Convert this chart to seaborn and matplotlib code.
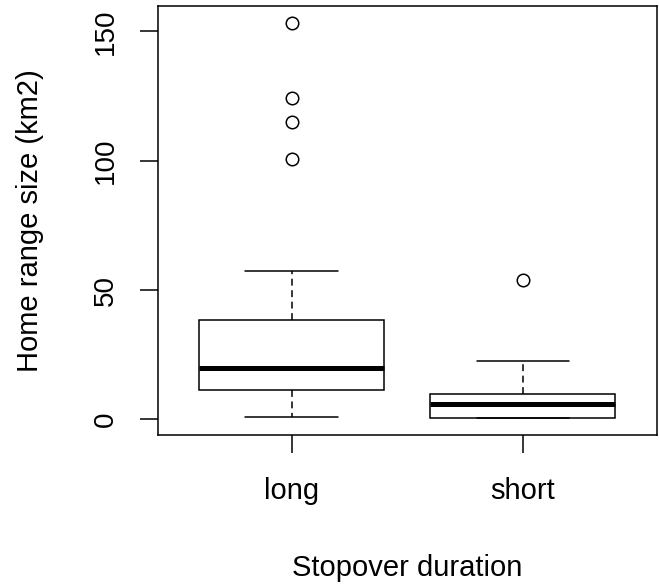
import pandas as pd
import seaborn as sns
import matplotlib.pyplot as plt

# values (home range size, km2)
long_vals = [0.8, 3.0, 5.2, 7.4, 9.6, 11.3, 12.8, 14.5, 16.0, 18.0, 19.7,
             22.5, 25.8, 29.4, 33.6, 38.4, 57.5, 100.5, 114.8, 124.1, 153.4]
short_vals = [0.6, 0.6, 0.6, 0.6, 2.0, 4.0, 5.9, 7.0, 8.5, 9.8, 14.0, 22.7, 54.0]
groups = ["long", "short"]
y_ticks = [0, 50, 100, 150]

df = pd.DataFrame({
    "duration": ["long"] * len(long_vals) + ["short"] * len(short_vals),
    "size": long_vals + short_vals,
})

sns.set_style("ticks")
plt.rcParams['font.family'] = ['Liberation Sans', 'DejaVu Sans']
plt.rcParams['text.color'] = 'black'
plt.rcParams['axes.labelcolor'] = 'black'
plt.rcParams['xtick.color'] = 'black'
plt.rcParams['ytick.color'] = 'black'

fig = plt.figure(figsize=(6.59, 5.84), dpi=100)
ax = fig.add_axes([0.2393, 0.2551, 0.7572, 0.7346])

sns.boxplot(data=df, x="duration", y="size", order=groups, ax=ax,
            color="white", linecolor="black", linewidth=1.1, width=0.8,
            whiskerprops=dict(linestyle=(0, (4.5, 3.0))),
            medianprops=dict(linewidth=3.6),
            flierprops=dict(marker="o", markersize=9, markerfacecolor="none",
                            markeredgecolor="black", markeredgewidth=1.1))

ax.set_xlim(-0.58, 1.58)
ax.set_ylim(-6.07, 159.8)
ax.set_yticks(y_ticks)
ax.set_yticklabels([str(v) for v in y_ticks])
for s in ax.spines.values():
    s.set_visible(True)
    s.set_linewidth(1.1)
    s.set_color("black")

ax.tick_params(axis="both", length=13, width=1.1, color="black",
               labelcolor="black", direction="out")
ax.tick_params(axis="x", labelsize=21, pad=17)
ax.tick_params(axis="y", labelsize=20, pad=15, labelrotation=90)
for t in ax.get_yticklabels():
    t.set_va("center")

ax.set_xlabel("Stopover duration", fontsize=21, color="black")
ax.set_ylabel("Home range size (km2)", fontsize=21, color="black")
ax.xaxis.set_label_coords(0.5, (435 - 568) / 429)
ax.xaxis.label.set_va("center")
ax.yaxis.set_label_coords((30 - 157.7) / 499, 0.5)
ax.yaxis.label.set_va("center")

fig.savefig("out.png", dpi=100)
